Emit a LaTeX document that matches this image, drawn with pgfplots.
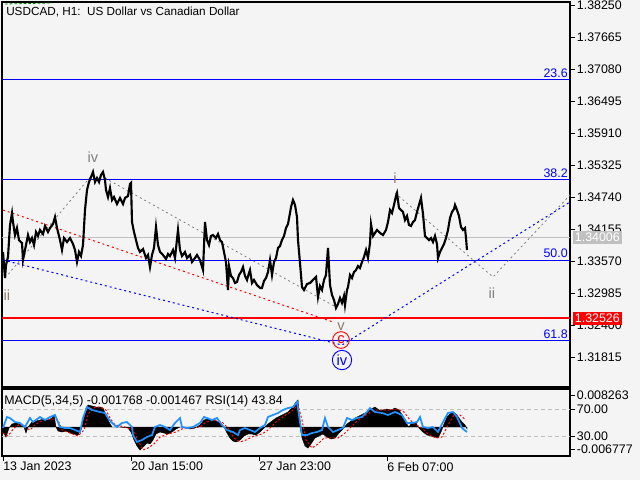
\documentclass[border=0pt]{standalone}
\usepackage{pgfplots}
\pgfplotsset{compat=1.18}
\usepackage{fontspec}
\setmainfont{Liberation Sans}
\definecolor{bg}{HTML}{F4F4F4}
\definecolor{wavegray}{HTML}{808080}
\definecolor{wavebrown}{HTML}{8C7A6E}
\definecolor{rsiblue}{HTML}{1E90FF}
\definecolor{bidgray}{HTML}{C0C0C0}
\begin{document}
\fontsize{9.3}{11}\selectfont
\begin{tikzpicture}
\fill[bg] (0,0) rectangle (480pt,-360pt);
\path[use as bounding box] (0,0) rectangle (480pt,-360pt);
% ---------------- main price axis ----------------
\begin{axis}[
  at={(1.5pt,-1.5pt)}, anchor=north west,
  width=426pt, height=288.75pt, scale only axis,
  xmin=2, xmax=570, ymin=1.31267, ymax=1.38304,
  clip=false,
  axis line style={black, line width=0.8pt},
  xtick=\empty,
  ytick pos=right, yticklabel pos=right,
  ytick={1.38250,1.37665,1.37080,1.36495,1.35910,1.35325,1.34740,1.34155,1.33570,1.32985,1.32400,1.31815},
  yticklabels={1.38250,1.37665,1.37080,1.36495,1.35910,1.35325,1.34740,1.34155,1.33570,1.32985,1.32400,1.31815},
  tick align=outside, major tick length=3.5pt,
  tick style={black, line width=0.6pt},
  yticklabel style={font=\fontsize{9.3}{11}\selectfont, inner xsep=1.5pt},
]
% horizontal levels
\addplot[blue, line width=0.75pt] coordinates {(2,1.36879) (570,1.36879)};
\addplot[blue, line width=0.75pt] coordinates {(2,1.35051) (570,1.35051)};
\addplot[blue, line width=0.75pt] coordinates {(2,1.33588) (570,1.33588)};
\addplot[blue, line width=0.75pt] coordinates {(2,1.32108) (570,1.32108)};
\addplot[bidgray, line width=0.75pt] coordinates {(2,1.34006) (570,1.34006)};
\addplot[red, line width=1.5pt] coordinates {(2,1.32526) (570,1.32526)};
% trend lines
\addplot[red, line width=0.75pt, dash pattern=on 1.5pt off 2.25pt] coordinates {(3,1.34502) (333,1.32455)};
\addplot[blue, line width=0.75pt, dash pattern=on 1.5pt off 2.25pt] coordinates {(3,1.33588) (342,1.32034) (570,1.34648)};
\addplot[wavegray, line width=0.6pt, dash pattern=on 1.5pt off 2.25pt] coordinates {(5,1.33259) (92,1.35142)};
\addplot[wavegray, line width=0.6pt, dash pattern=on 1.5pt off 2.25pt] coordinates {(105,1.35087) (334,1.32748)};
\addplot[wavegray, line width=0.6pt, dash pattern=on 1.5pt off 2.25pt] coordinates {(395,1.34813) (493,1.33278) (570,1.34776)};
\addplot[green!50!black, line width=0.6pt, dash pattern=on 2pt off 1.5pt] coordinates {(5,1.38268) (52,1.38286)};
% price
\addplot[black, line width=1.6pt] coordinates {
(3,1.33735) (4,1.33497) (5,1.33259) (6,1.33497) (8,1.33643) (10,1.34228) (12,1.34447) (13,1.34283)
(15,1.34045) (17,1.34173) (19,1.33953) (22,1.33899) (23,1.33588) (25,1.33771) (28,1.34045) (30,1.33917)
(32,1.33990) (34,1.33862) (36,1.34100) (38,1.34027) (40,1.34137) (43,1.34063) (45,1.34210) (48,1.34100)
(50,1.34173) (53,1.34246) (55,1.34374) (57,1.34173) (60,1.33953) (62,1.33771) (64,1.33990) (67,1.33917)
(70,1.33990) (73,1.33881) (75,1.33771) (77,1.33552) (79,1.33735) (81,1.33661) (83,1.33862) (85,1.34502)
(87,1.34868) (89,1.35014) (91,1.35105) (93,1.35197) (95,1.35014) (97,1.35087) (99,1.35014) (101,1.35142)
(103,1.35197) (105,1.35051) (106,1.34868) (108,1.34740) (110,1.34904) (112,1.34685) (114,1.34740) (117,1.34612)
(120,1.34722) (123,1.34612) (125,1.34722) (128,1.34758) (130,1.34977) (131,1.34996) (132,1.34283) (134,1.34100)
(136,1.33953) (138,1.33808) (140,1.33735) (143,1.33789) (146,1.33625) (148,1.33680) (150,1.33460) (152,1.33680)
(154,1.33808) (156,1.34191) (158,1.33862) (160,1.33735) (163,1.33680) (166,1.33606) (168,1.33698) (170,1.33661)
(173,1.33771) (175,1.33625) (178,1.34137) (180,1.33771) (182,1.33661) (185,1.33735) (187,1.33625) (190,1.33680)
(192,1.33552) (195,1.33625) (197,1.33680) (200,1.33588) (203,1.33405) (205,1.34283) (207,1.33953) (209,1.33862)
(211,1.34027) (213,1.34045) (216,1.33990) (218,1.34063) (220,1.33953) (222,1.33917) (224,1.33735) (226,1.33552)
(228,1.33040) (229,1.33478) (231,1.33296) (233,1.33259) (235,1.33168) (237,1.33186) (239,1.33314) (241,1.33369)
(243,1.33460) (245,1.33296) (247,1.33223) (249,1.33351) (250,1.33405) (252,1.33168) (254,1.33223) (257,1.33131)
(260,1.33077) (262,1.33077) (264,1.33205) (266,1.33259) (268,1.33369) (270,1.33588) (272,1.33314) (274,1.33552)
(276,1.33625) (278,1.33808) (280,1.33844) (282,1.33953) (284,1.34027) (286,1.34173) (288,1.34246) (290,1.34447)
(291,1.34557) (293,1.34685) (295,1.34594) (297,1.34374) (298,1.33953) (300,1.33533) (302,1.33095) (304,1.33040)
(307,1.33150) (310,1.33168) (313,1.33223) (316,1.33278) (318,1.32913) (320,1.33113) (322,1.33040) (324,1.33223)
(326,1.33314) (328,1.33808) (330,1.33131) (332,1.32949) (334,1.32857) (336,1.32711) (338,1.32784) (340,1.32894)
(342,1.32803) (344,1.32931) (345,1.32766) (347,1.33040) (348,1.33095) (350,1.33314) (352,1.33259) (354,1.33369)
(356,1.33405) (358,1.33478) (360,1.33442) (362,1.33552) (364,1.33643) (366,1.33771) (368,1.33625) (370,1.33899)
(371,1.34246) (373,1.34027) (375,1.34082) (377,1.34137) (380,1.34082) (383,1.34045) (386,1.34137) (388,1.34283)
(390,1.34502) (392,1.34447) (394,1.34594) (396,1.34758) (397,1.34813) (399,1.34539) (401,1.34502) (403,1.34466)
(405,1.34319) (407,1.34393) (409,1.34228) (411,1.34210) (413,1.34283) (415,1.34319) (417,1.34466) (419,1.34594)
(421,1.34722) (423,1.34429) (425,1.34027) (427,1.33990) (429,1.33953) (431,1.33990) (433,1.33917) (435,1.34027)
(437,1.33881) (438,1.33625) (440,1.33735) (442,1.33808) (444,1.33881) (446,1.33990) (448,1.34137) (450,1.34356)
(452,1.34466) (454,1.34520) (455,1.34594) (457,1.34502) (459,1.34393) (461,1.34191) (463,1.34137) (465,1.34173)
(466,1.33990) (467,1.33771)
};
% texts
\node[anchor=west, inner sep=0pt, text=black, font=\fontsize{8.8}{11}\selectfont] at (axis cs:6,1.38122) {USDCAD, H1:\ \ US Dollar vs Canadian Dollar};
\node[anchor=south east, inner sep=0pt, text=blue] at (axis cs:568,1.36915) {23.6};
\node[anchor=south east, inner sep=0pt, text=blue] at (axis cs:568,1.35087) {38.2};
\node[anchor=south east, inner sep=0pt, text=blue] at (axis cs:568,1.33624) {50.0};
\node[anchor=south east, inner sep=0pt, text=blue] at (axis cs:568,1.32144) {61.8};
\node[text=wavegray, inner sep=0pt, font=\fontsize{11}{12}\selectfont] at (axis cs:93,1.35471) {iv};
\node[text=wavebrown, inner sep=0pt, font=\fontsize{11}{12}\selectfont] at (axis cs:395,1.35087) {i};
\node[text=wavebrown, inner sep=0pt, font=\fontsize{11}{12}\selectfont] at (axis cs:7,1.32948) {ii};
\node[text=wavegray, inner sep=0pt, font=\fontsize{11}{12}\selectfont] at (axis cs:492,1.32985) {ii};
\node[text=wavebrown, inner sep=0pt, font=\fontsize{11}{12}\selectfont] at (axis cs:341,1.32364) {v};
\node[circle, draw=red, line width=0.7pt, text=red, inner sep=0pt, minimum size=12.5pt, font=\fontsize{11}{12}\selectfont] at (axis cs:341,1.32126) {c};
\node[circle, draw=blue, line width=0.7pt, text=blue, inner sep=0pt, minimum size=14.5pt, font=\fontsize{11}{12}\selectfont] at (axis cs:342,1.31760) {iv};
\coordinate (bidR) at (axis cs:570,1.34006);
\coordinate (redR) at (axis cs:570,1.32526);
\end{axis}
\node[anchor=west, fill=bidgray, text=white, inner xsep=1.5pt, inner ysep=1.6pt, xshift=2pt] at (bidR) {1.34006};
\node[anchor=west, fill=red, text=white, inner xsep=1.5pt, inner ysep=1.6pt, xshift=2pt] at (redR) {1.32526};
% ---------------- lower panel: frame, ticks, levels ----------------
\begin{axis}[
  at={(1.5pt,-291.75pt)}, anchor=north west,
  width=426pt, height=50.25pt, scale only axis,
  xmin=2, xmax=570, ymin=0, ymax=100,
  clip=false,
  axis line style={black, line width=0.8pt},
  xtick={3,131,259,387},
  xticklabels={13 Jan 2023, 20 Jan 15:00, 27 Jan 23:00, 6 Feb 07:00},
  xtick pos=bottom,
  xticklabel style={anchor=north west, inner xsep=0pt, inner ysep=1pt, font=\fontsize{9.3}{11}\selectfont},
  ytick pos=right, yticklabel pos=right,
  ytick={91,70,30,10.4},
  yticklabels={0.008263,70.00,30.00,-0.006777},
  yticklabel style={font=\fontsize{9.3}{11}\selectfont, inner xsep=1.5pt},
  tick align=outside, major tick length=3.5pt,
  tick style={black, line width=0.6pt},
]
\addplot[bidgray, line width=0.6pt, dash pattern=on 3pt off 2.25pt] coordinates {(2,70) (570,70)};
\addplot[bidgray, line width=0.6pt, dash pattern=on 3pt off 2.25pt] coordinates {(2,30) (570,30)};
\end{axis}
% ---------------- lower panel: MACD ----------------
\begin{axis}[
  at={(1.5pt,-291.75pt)}, anchor=north west,
  width=426pt, height=50.25pt, scale only axis,
  xmin=2, xmax=570, ymin=-0.0080765, ymax=0.010583,
  axis lines=none, ticks=none,
]
\addplot[black, fill=black, line width=0.3pt] coordinates {
(3,-0.00139) (6,-0.00279) (9,-0.00028) (12,0.00084) (16,0.00111) (20,0.00084) (24,0) (26,-0.00167) (28,0)
(32,0.00139) (36,0.00167) (40,0.00195) (44,0.00223) (48,0.00195) (52,0.00251) (54,0.00334) (56,0) (58,-0.00111)
(62,-0.00139) (66,-0.00111) (70,-0.00167) (74,-0.00195) (78,-0.00223) (81,-0.00084) (84,0.00251) (86,0.00529)
(88,0.00613) (92,0.00585) (96,0.00557) (100,0.00557) (103,0.00529) (106,0.00334) (109,0.00139) (112,0) (120,0)
(128,-0.00028) (131,-0.00139) (134,-0.00362) (137,-0.00529) (140,-0.00641) (143,-0.00557) (147,-0.00446)
(150,-0.00473) (153,-0.00362) (156,-0.00195) (160,-0.00139) (164,-0.00167) (168,-0.00195) (172,-0.00139)
(176,-0.00056) (180,0) (185,0) (190,-0.00056) (195,-0.00028) (200,0.00056) (204,0.00195) (208,0.00223)
(212,0.00195) (216,0.00167) (220,0.00111) (224,0) (227,-0.00167) (230,-0.00306) (233,-0.00390) (236,-0.00418)
(240,-0.00362) (244,-0.00251) (248,-0.00195) (252,-0.00195) (256,-0.00223) (260,-0.00139) (264,-0.00028)
(268,0.00084) (272,0.00167) (276,0.00251) (280,0.00306) (284,0.00362) (288,0.00418) (292,0.00529) (296,0.00696)
(298,0.00752) (300,0) (302,-0.00306) (305,-0.00529) (308,-0.00585) (311,-0.00473) (315,-0.00306) (319,-0.00251)
(323,-0.00195) (327,-0.00279) (331,-0.00334) (335,-0.00306) (339,-0.00167) (343,-0.00056) (347,0.00084)
(351,0.00167) (355,0.00251) (359,0.00306) (363,0.00362) (367,0.00418) (371,0.00501) (375,0.00557) (379,0.00473)
(383,0.00473) (387,0.00501) (391,0.00473) (395,0.00529) (399,0.00473) (403,0.00306) (406,0.00111) (409,0)
(412,0.00139) (416,0.00111) (419,-0.00028) (423,-0.00139) (427,-0.00223) (431,-0.00251) (435,-0.00279)
(438,-0.00306) (441,-0.00139) (444,0.00084) (447,0.00278) (450,0.00362) (453,0.00418) (456,0.00362)
(459,0.00251) (462,0.00139) (465,0.00056) (467,-0.00050)
} \closedcycle;
\addplot[red, line width=0.75pt, dash pattern=on 1.5pt off 1.5pt] coordinates {
(3,-0.00167) (8,-0.00251) (14,-0.00028) (20,0.00084) (26,-0.00028) (30,-0.00084) (36,0.00084) (44,0.00195)
(52,0.00223) (58,0.00195) (62,-0.00084) (70,-0.00167) (78,-0.00251) (84,-0.00084) (88,0.00334) (92,0.00529)
(100,0.00557) (106,0.00473) (110,0.00251) (115,0.00056) (125,0) (133,-0.00084) (138,-0.00362) (143,-0.00641)
(148,-0.00585) (154,-0.00473) (160,-0.00279) (168,-0.00195) (176,-0.00139) (184,-0.00028) (192,-0.00028)
(200,0) (206,0.00139) (214,0.00195) (222,0.00139) (228,-0.00028) (234,-0.00306) (240,-0.00418) (246,-0.00362)
(254,-0.00251) (262,-0.00195) (268,-0.00084) (276,0.00139) (284,0.00306) (292,0.00446) (298,0.00613)
(302,0.00195) (306,-0.00362) (312,-0.00585) (318,-0.00473) (324,-0.00306) (332,-0.00306) (338,-0.00306)
(344,-0.00195) (350,-0.00028) (358,0.00195) (366,0.00334) (374,0.00473) (382,0.00473) (390,0.00473)
(398,0.00501) (404,0.00418) (410,0.00195) (416,0.00056) (422,-0.00028) (428,-0.00195) (436,-0.00306)
(442,-0.00279) (448,0.00056) (454,0.00334) (460,0.00334) (466,0.00195)
};
\end{axis}
% ---------------- lower panel: RSI ----------------
\begin{axis}[
  at={(1.5pt,-291.75pt)}, anchor=north west,
  width=426pt, height=50.25pt, scale only axis,
  xmin=2, xmax=570, ymin=0, ymax=100,
  axis lines=none, ticks=none, clip=false,
]
\addplot[rsiblue, line width=1.3pt] coordinates {
(3,41.8) (7,58.2) (10,56.7) (15,50.7) (20,49.3) (25,43.3) (30,56.7) (33,50.7) (40,58.2) (45,53.7) (50,58.2)
(55,61.2) (60,43.3) (65,41.8) (70,41.8) (75,38.8) (80,35.8) (83,56.7) (87,73.1) (92,68.7) (100,65.7) (105,64.2)
(108,56.7) (112,49.3) (117,43.3) (122,49.3) (127,50.7) (132,43.3) (133,31.3) (137,20.9) (142,23.9) (147,28.4)
(152,31.3) (155,43.3) (160,46.3) (165,43.3) (170,38.8) (175,49.3) (180,56.7) (182,43.3) (187,41.8) (193,43.3)
(200,49.3) (204,58.2) (207,56.7) (212,53.7) (217,56.7) (222,46.3) (227,38.8) (233,35.8) (238,31.3) (240,38.8)
(245,41.8) (250,38.8) (255,35.8) (260,41.8) (265,46.3) (268,58.2) (273,61.2) (278,64.2) (283,68.7) (288,71.6)
(293,73.1) (297,80.6) (300,50.7) (302,31.3) (307,31.3) (312,34.3) (317,35.8) (322,38.8) (325,56.7) (328,43.3)
(333,35.8) (338,38.8) (343,41.8) (347,56.7) (352,53.7) (357,56.7) (362,58.2) (367,65.7) (370,71.6) (375,65.7)
(382,64.2) (388,61.2) (395,65.7) (402,61.2) (407,49.3) (412,49.3) (417,50.7) (420,58.2) (423,43.3) (428,41.8)
(433,43.3) (438,35.8) (443,50.7) (448,64.2) (453,65.7) (457,58.2) (462,41.8) (467,35.8)
};
\node[anchor=west, inner sep=0pt, text=black] at (axis cs:4,82) {MACD(5,34,5) -0.001768 -0.001467 RSI(14) 43.84};
\end{axis}
\end{tikzpicture}
\end{document}
